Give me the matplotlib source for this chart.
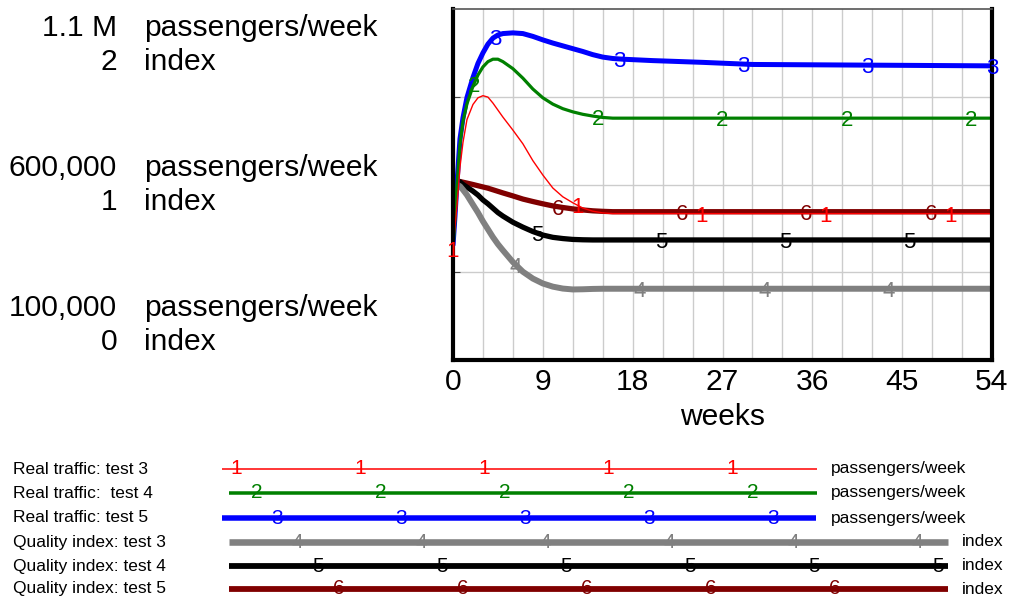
import matplotlib.pyplot as plt
import numpy as np

plt.rcParams['font.family'] = ['Liberation Sans', 'DejaVu Sans']

weeks = [0, 0.2, 0.4, 0.7, 1, 1.4, 2, 2.5, 3, 3.5, 4, 4.5, 5, 6, 7, 8, 9, 10, 11, 12,
         13, 14, 15, 16, 17, 20, 25, 30, 54]

# passengers/week (thousands)
traffic_test3 = [416, 480, 540, 650, 720, 785, 828, 847, 853, 849, 832, 812, 792, 755, 716,
                 668, 627, 590, 565, 548, 533, 524, 519, 517, 517, 517, 517, 517, 517]
traffic_test4 = [416, 500, 600, 715, 780, 830, 880, 912, 935, 950, 957, 957, 950, 930, 903,
                 872, 847, 829, 816, 807, 800, 795, 791, 789, 789, 789, 789, 789, 789]
traffic_test5 = [426, 510, 605, 730, 790, 848, 905, 945, 975, 1000, 1017, 1026, 1030, 1032, 1030,
                 1022, 1012, 1003, 995, 987, 979, 970, 963, 959, 957, 953, 948, 942, 938]

# index
quality_test3 = [1.01, 1.005, 1.0, 0.99, 0.97, 0.94, 0.885, 0.84, 0.79, 0.745, 0.70, 0.66, 0.625,
                 0.558, 0.503, 0.464, 0.436, 0.418, 0.407, 0.402, 0.403, 0.405, 0.406, 0.406,
                 0.406, 0.406, 0.406, 0.406, 0.406]
quality_test4 = [1.02, 1.02, 1.02, 1.015, 1.0, 0.985, 0.962, 0.94, 0.912, 0.89, 0.865, 0.84, 0.82,
                 0.785, 0.757, 0.732, 0.712, 0.699, 0.692, 0.687, 0.685, 0.684, 0.684, 0.684,
                 0.684, 0.684, 0.684, 0.684, 0.684]
quality_test5 = [1.025, 1.024, 1.02, 1.017, 1.013, 1.008, 1.0, 0.993, 0.986, 0.979, 0.97, 0.961,
                 0.952, 0.935, 0.917, 0.903, 0.89, 0.878, 0.869, 0.861, 0.855, 0.85, 0.847, 0.845,
                 0.845, 0.845, 0.845, 0.845, 0.845]

names = ['Real traffic: test 3', 'Real traffic:  test 4', 'Real traffic: test 5',
         'Quality index: test 3', 'Quality index: test 4', 'Quality index: test 5']
units = ['passengers/week'] * 3 + ['index'] * 3
colors = ['#ff0000', '#008000', '#0000ff', '#808080', '#000000', '#800000']
widths = [1.0, 2.3, 3.6, 4.3, 3.8, 3.8]

traffic_ticks = ['1.1 M', '600,000', '100,000']
index_ticks = ['2', '1', '0']
x_ticks = [0, 9, 18, 27, 36, 45, 54]

fig = plt.figure(figsize=(10.09, 6.01), dpi=100)
ax_idx = fig.add_axes([453 / 1009, 1 - 360 / 601, 539 / 1009, 351 / 601])
ax_tr = ax_idx.twinx()

ax_idx.set_xlim(0, 54)
ax_idx.set_ylim(0, 2)
ax_tr.set_ylim(100, 1100)

ax_idx.set_xticks(x_ticks)
ax_idx.set_xticks(np.arange(0, 55, 3), minor=True)
ax_idx.set_yticks([0.5, 1, 1.5])
ax_idx.grid(True, which='both', color='#cccccc', lw=1)
ax_idx.set_axisbelow(True)
ax_idx.tick_params(axis='x', which='both', length=0, labelsize=21.6, pad=6)
ax_idx.tick_params(axis='y', direction='in', length=5, color='#444444', labelleft=False)
ax_idx.set_xlabel('weeks', fontsize=21.6, labelpad=5)
ax_tr.set_yticks([])
for s in ax_idx.spines.values():
    s.set_visible(False)
for side in ['left', 'right', 'bottom']:
    ax_tr.spines[side].set_linewidth(3)
    ax_tr.spines[side].set_color('black')
ax_tr.spines['top'].set_linewidth(1.2)
ax_tr.spines['top'].set_color('#555555')

series = [traffic_test3, traffic_test4, traffic_test5, quality_test3, quality_test4, quality_test5]
for i in reversed(range(6)):
    ax = ax_tr if i < 3 else ax_idx
    ax.plot(weeks, series[i], color=colors[i], lw=widths[i], solid_capstyle='butt')
    xs = np.arange(i * 2.1, 54.05, 12.45)
    for x in xs:
        ax.text(x, np.interp(x, weeks, series[i]), str(i + 1), color=colors[i],
                fontsize=16, ha='center', va='center_baseline', clip_on=False)

# overlay in pixel coordinates for the left labels and the legend
lax = fig.add_axes([0, 0, 1, 1])
lax.set_xlim(0, 1009)
lax.set_ylim(601, 0)
lax.axis('off')

for k, yc in enumerate([45, 185, 325]):
    lax.text(117, yc - 17, traffic_ticks[k], fontsize=21.6, ha='right', va='center')
    lax.text(144, yc - 17, 'passengers/week', fontsize=21.6, ha='left', va='center')
    lax.text(117, yc + 17, index_ticks[k], fontsize=21.6, ha='right', va='center')
    lax.text(144, yc + 17, 'index', fontsize=21.6, ha='left', va='center')

row_y = [469, 493, 518, 542, 566, 589]
line_x0 = [222, 229, 222, 229, 229, 229]
line_x1 = [817, 817, 816, 948, 948, 948]
unit_x = [831, 831, 831, 962, 962, 962]
for i in range(6):
    y = row_y[i]
    lax.text(13, y, names[i], fontsize=12.5, ha='left', va='center')
    lax.plot([line_x0[i], line_x1[i]], [y, y], color=colors[i], lw=widths[i] * 1.1,
             solid_capstyle='butt')
    for x in np.arange(236 + i * 20.5, line_x1[i] + 1, 124):
        lax.text(x, y, str(i + 1), color=colors[i], fontsize=15, ha='center',
                 va='center')
    lax.text(unit_x[i], y, units[i], fontsize=12.5, ha='left', va='center')

fig.savefig('out.png', dpi=100)
